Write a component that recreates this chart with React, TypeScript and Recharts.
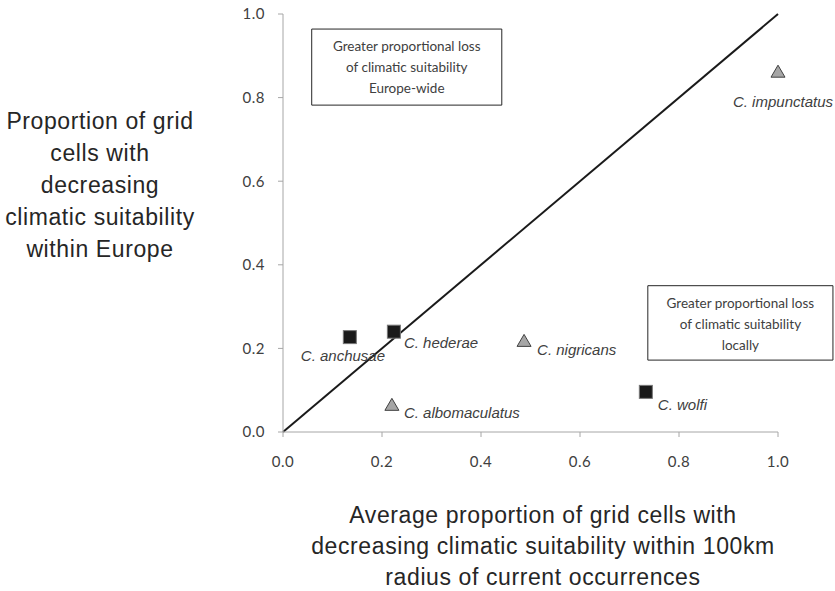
import React from 'react';
import {
  ScatterChart,
  Scatter,
  XAxis,
  YAxis,
  ReferenceLine,
  ReferenceArea,
  Label,
} from 'recharts';

const speciesNames = ['C. anchusae', 'C. hederae', 'C. wolfi'];
const speciesX = [0.135, 0.224, 0.733];
const speciesY = [0.227, 0.24, 0.096];

const triNames = ['C. nigricans', 'C. albomaculatus', 'C. impunctatus'];
const triX = [0.487, 0.22, 1.0];
const triY = [0.218, 0.065, 0.862];

const ticks = [0, 0.2, 0.4, 0.6, 0.8, 1.0];

const boxEurope = ['Greater proportional loss', 'of climatic suitability', 'Europe-wide'];
const boxLocal = ['Greater proportional loss', 'of climatic suitability', 'locally'];

const yTitle = ['Proportion of grid', 'cells with', 'decreasing', 'climatic suitability', 'within Europe'];
const xTitle = [
  'Average proportion of grid cells with',
  'decreasing climatic suitability within 100km',
  'radius of current occurrences',
];

// where each species label sits relative to its marker
const labelOffset: Record<string, { dx: number; dy: number; anchor: string }> = {
  'C. anchusae': { dx: -49, dy: 24, anchor: 'start' },
  'C. hederae': { dx: 10, dy: 16, anchor: 'start' },
  'C. wolfi': { dx: 12, dy: 18, anchor: 'start' },
  'C. nigricans': { dx: 13, dy: 14, anchor: 'start' },
  'C. albomaculatus': { dx: 12, dy: 13, anchor: 'start' },
  'C. impunctatus': { dx: 55, dy: 35, anchor: 'end' },
};

const squares = speciesNames.map((name, i) => ({ name, x: speciesX[i], y: speciesY[i] }));
const triangles = triNames.map((name, i) => ({ name, x: triX[i], y: triY[i] }));

const labelFont = { fontFamily: '"Liberation Sans", Arial, sans-serif', fontSize: 15, fontStyle: 'italic', fill: '#404040' };
const titleFont = { fontFamily: '"Liberation Sans", Arial, sans-serif', fontSize: 23, letterSpacing: 0.6, fill: '#262626' };

function SpeciesLabel({ cx, cy, name }: any) {
  const o = labelOffset[name];
  return (
    <text x={cx + o.dx} y={cy + o.dy} textAnchor={o.anchor} {...labelFont}>
      {name}
    </text>
  );
}

function SquareShape(props: any) {
  const { cx, cy, payload } = props;
  return (
    <g>
      <rect x={cx - 6.5} y={cy - 6.5} width={13} height={13} fill='#1a1a1a' stroke='#777' strokeWidth={1} />
      <SpeciesLabel cx={cx} cy={cy} name={payload.name} />
    </g>
  );
}

function TriangleShape(props: any) {
  const { cx, cy, payload } = props;
  return (
    <g>
      <path d={`M${cx},${cy - 6.5} L${cx + 7},${cy + 5.5} L${cx - 7},${cy + 5.5} Z`} fill='#a6a6a6' stroke='#404040' strokeWidth={1} />
      <SpeciesLabel cx={cx} cy={cy} name={payload.name} />
    </g>
  );
}

function boxLabel(lines: string[]) {
  return (props: any) => {
    const { x, y, width } = props.viewBox;
    return (
      <g>
        {lines.map((l, i) => (
          <text
            key={i}
            x={x + width / 2}
            y={y + 22 + i * 21}
            textAnchor='middle'
            fontFamily='Lato, "Open Sans", sans-serif'
            fontSize={13.5}
            fill='#404040'
          >
            {l}
          </text>
        ))}
      </g>
    );
  };
}

function YTitle(props: any) {
  const { x } = props.viewBox;
  return (
    <g>
      {yTitle.map((l, i) => (
        <text key={i} x={x - 123} y={129 + i * 32} textAnchor='middle' {...titleFont}>
          {l}
        </text>
      ))}
    </g>
  );
}

function XTitle(props: any) {
  const { y } = props.viewBox;
  return (
    <g>
      {xTitle.map((l, i) => (
        <text key={i} x={543} y={y + 91 + i * 31} textAnchor='middle' {...titleFont}>
          {l}
        </text>
      ))}
    </g>
  );
}

const tickStyle = { fontFamily: 'Lato, sans-serif', fontSize: 15, letterSpacing: 0.5, fill: '#404040' };

export default function App() {
  return (
    <div style={{ position: 'absolute', left: 0, top: 0, width: 835, height: 591, background: '#fff' }}>
      <ScatterChart width={835} height={591} margin={{ top: 14, right: 57, left: 223, bottom: 129 }}>
        <XAxis
          type='number'
          dataKey='x'
          domain={[0, 1]}
          ticks={ticks}
          tickFormatter={(v: number) => v.toFixed(1)}
          height={30}
          stroke='#a6a6a6'
          tickSize={5}
          tick={tickStyle}
          tickMargin={19}
        >
          <Label content={XTitle} />
        </XAxis>
        <YAxis
          type='number'
          dataKey='y'
          domain={[0, 1]}
          ticks={ticks}
          tickFormatter={(v: number) => v.toFixed(1)}
          width={60}
          stroke='#a6a6a6'
          tickSize={5}
          tick={tickStyle}
          tickMargin={13}
        >
          <Label content={YTitle} />
        </YAxis>
        <ReferenceLine
          segment={[{ x: 0, y: 0 }, { x: 1, y: 1 }]}
          stroke='#1a1a1a'
          strokeWidth={2}
          ifOverflow='visible'
        />
        <ReferenceArea
          x1={0.058}
          x2={0.442}
          y1={0.782}
          y2={0.964}
          fill='#fff'
          fillOpacity={1}
          stroke='#262626'
          strokeWidth={1}
          ifOverflow='visible'
          label={boxLabel(boxEurope)}
        />
        <ReferenceArea
          x1={0.737}
          x2={1.111}
          y1={0.172}
          y2={0.35}
          fill='#fff'
          fillOpacity={1}
          stroke='#262626'
          strokeWidth={1}
          ifOverflow='visible'
          label={boxLabel(boxLocal)}
        />
        <Scatter data={squares} shape={SquareShape} isAnimationActive={false} />
        <Scatter data={triangles} shape={TriangleShape} isAnimationActive={false} />
      </ScatterChart>
    </div>
  );
}
